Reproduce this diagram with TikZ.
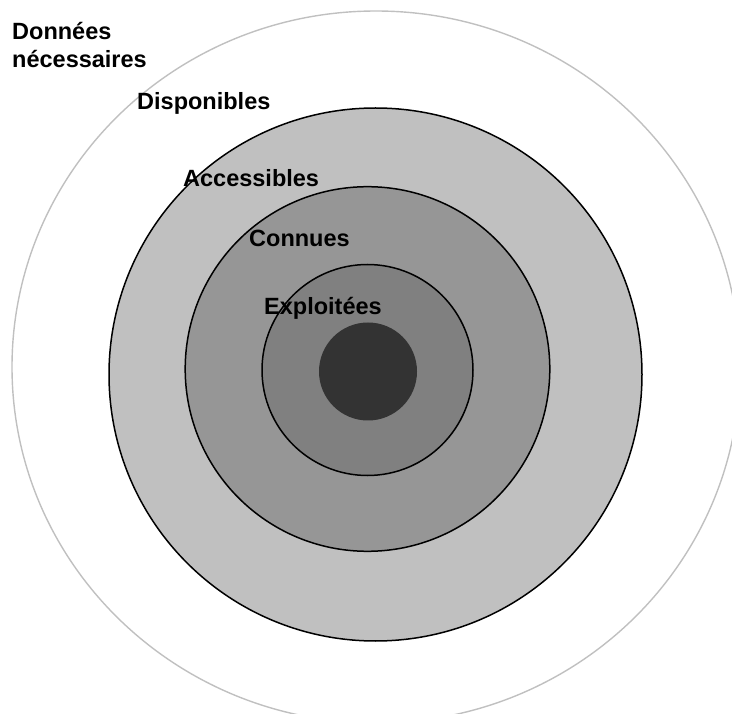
\documentclass[tikz,border=0pt]{standalone}
\usepackage{fontspec}
\setmainfont{Liberation Sans}
\definecolor{ringA}{HTML}{C0C0C0}
\definecolor{ringB}{HTML}{969696}
\definecolor{ringC}{HTML}{808080}
\definecolor{core}{HTML}{333333}
\definecolor{outerline}{HTML}{C0C0C0}
\begin{document}
\begin{tikzpicture}[x=1pt,y=-1pt,
  lbl/.style={font=\bfseries\fontsize{23.5}{28}\selectfont, anchor=base west, inner sep=0pt, text=black},
  ring/.style={draw=black, line width=1.5pt}]
\useasboundingbox (0,0) rectangle (732,714);
\clip (0,0) rectangle (732,714);
\draw[draw=outerline, line width=1.4pt] (376,367) ellipse [x radius=364, y radius=356];
\filldraw[ring, fill=ringA] (375.5,374.5) circle [radius=266.5];
\filldraw[ring, fill=ringB] (367.5,369) circle [radius=182.3];
\filldraw[ring, fill=ringC] (367.5,370) circle [radius=105.5];
\fill[core] (368,371.5) circle [radius=49];
\node[lbl] (donnees) at (12,40) {Données};
\node[lbl] (necessaires) at (12,68) {nécessaires};
\node[lbl] (disponibles) at (137,110) {Disponibles};
\node[lbl] (accessibles) at (183,187) {Accessibles};
\node[lbl] (connues) at (249,247) {Connues};
\node[lbl] (exploitees) at (264,315) {Exploitées};
\end{tikzpicture}
\end{document}
